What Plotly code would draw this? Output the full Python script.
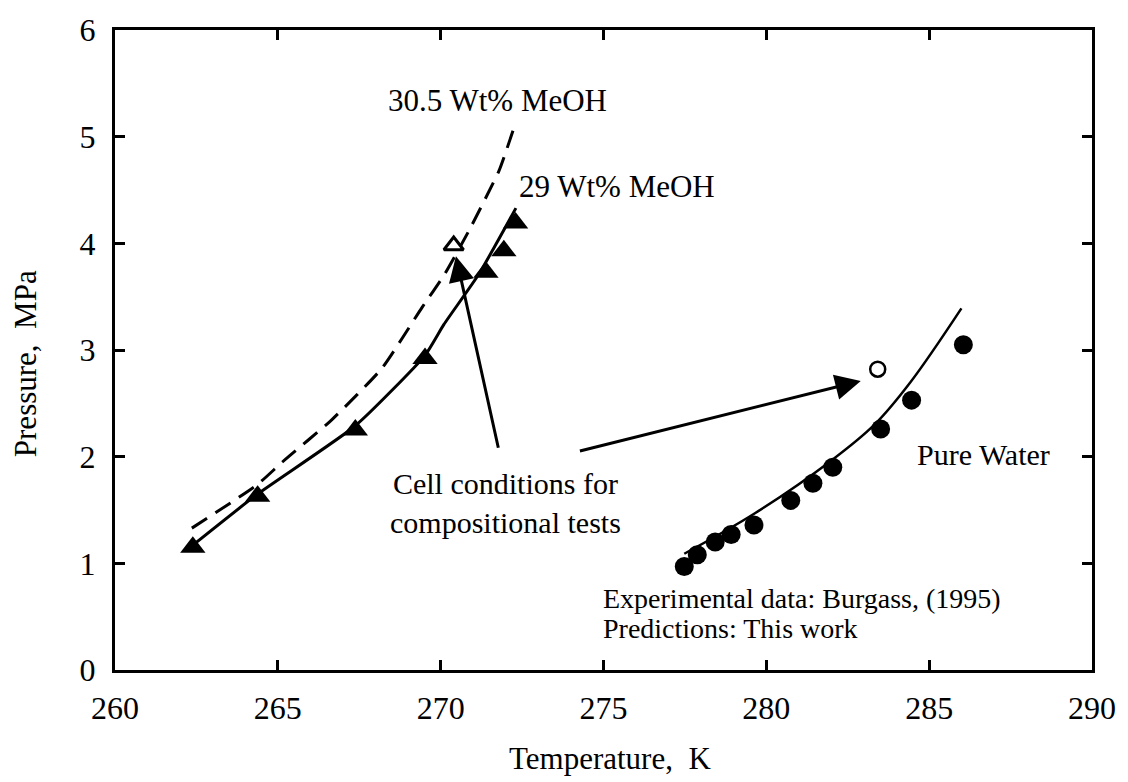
import plotly.graph_objects as go

# Hydrate dissociation data (temperature in K, pressure in MPa)
t_meoh29_pts = [262.39, 264.38, 267.38, 269.52, 271.39, 271.94, 272.30]
p_meoh29_pts = [1.15, 1.63, 2.25, 2.92, 3.73, 3.93, 4.19]

t_meoh29_pred = [262.39, 264.38, 267.38, 269.52, 270.10, 271.17, 272.31]
p_meoh29_pred = [1.17, 1.65, 2.29, 2.95, 3.24, 3.71, 4.33]

t_meoh305_pred = [262.36, 264.38, 265.14, 266.67, 268.20, 269.43, 270.10, 270.87, 271.79, 272.28]
p_meoh305_pred = [1.33, 1.74, 1.95, 2.35, 2.83, 3.40, 3.70, 4.12, 4.68, 5.11]

t_water_pts = [277.48, 277.88, 278.43, 278.92, 279.62, 280.75, 281.43, 282.04, 283.51, 284.46, 286.05]
p_water_pts = [0.97, 1.08, 1.20, 1.27, 1.36, 1.59, 1.75, 1.90, 2.26, 2.53, 3.05]

t_water_pred = [277.48, 279.65, 281.98, 283.32, 284.43, 285.99]
p_water_pred = [1.09, 1.47, 1.96, 2.30, 2.70, 3.39]

# Cell conditions used for the compositional tests
t_cell_meoh, p_cell_meoh = [270.40], [3.98]
t_cell_water, p_cell_water = [283.42], [2.82]

x_ticks = [260, 265, 270, 275, 280, 285, 290]
y_ticks = [0, 1, 2, 3, 4, 5, 6]

FONT = "Liberation Serif"
BLACK = "#000000"

fig = go.Figure()

fig.add_trace(go.Scatter(x=t_meoh305_pred, y=p_meoh305_pred, mode="lines",
                         line=dict(color=BLACK, width=3, dash="18px,10px",
                                   shape="spline", smoothing=0.5),
                         showlegend=False))
fig.add_trace(go.Scatter(x=t_meoh29_pred, y=p_meoh29_pred, mode="lines",
                         line=dict(color=BLACK, width=3, shape="spline", smoothing=0.5),
                         showlegend=False))
fig.add_trace(go.Scatter(x=t_water_pred, y=p_water_pred, mode="lines",
                         line=dict(color=BLACK, width=2.5, shape="spline"),
                         showlegend=False))
fig.add_trace(go.Scatter(x=t_meoh29_pts, y=p_meoh29_pts, mode="markers",
                         marker=dict(symbol="triangle-up", size=22, color=BLACK),
                         showlegend=False))
fig.add_trace(go.Scatter(x=t_water_pts, y=p_water_pts, mode="markers",
                         marker=dict(symbol="circle", size=19, color=BLACK),
                         showlegend=False))
fig.add_trace(go.Scatter(x=t_cell_meoh, y=p_cell_meoh, mode="markers",
                         marker=dict(symbol="triangle-up", size=17, color="white",
                                     line=dict(color=BLACK, width=3)),
                         showlegend=False))
fig.add_trace(go.Scatter(x=t_cell_water, y=p_cell_water, mode="markers",
                         marker=dict(symbol="circle", size=15, color="white",
                                     line=dict(color=BLACK, width=2.5)),
                         showlegend=False))


def label(x, y, text, size, **kw):
    d = dict(x=x, y=y, text=text, xref="x", yref="y", showarrow=False,
             xanchor="left", yanchor="middle",
             font=dict(family=FONT, size=size, color=BLACK))
    d.update(kw)
    return d


annotations = [
    label(268.33, 5.34, "30.5 Wt% MeOH", 31),
    label(272.34, 4.53, "29 Wt% MeOH", 31),
    label(272.0, 1.57, "Cell conditions for<br>compositional tests", 30,
          xanchor="center", align="center"),
    label(284.58, 2.02, "Pure Water", 30),
    label(274.91, 0.67, "Experimental data: Burgass, (1995)", 28),
    label(274.91, 0.39, "Predictions: This work", 28),
    # axis titles
    dict(x=0.507, y=-0.138, xref="paper", yref="paper", text="Temperature,\u00a0 K",
         showarrow=False, xanchor="center", yanchor="middle",
         font=dict(family=FONT, size=31, color=BLACK)),
    dict(x=-0.092, y=0.478, xref="paper", yref="paper", text="Pressure,\u00a0 MPa",
         showarrow=False, xanchor="center", yanchor="middle", textangle=-90,
         font=dict(family=FONT, size=31, color=BLACK)),
]

# Arrows pointing at the cell conditions
arrows = [
    dict(x=270.47, y=3.88, ax=271.78, ay=2.07),
    dict(x=282.90, y=2.71, ax=274.23, ay=2.05),
]
for a in arrows:
    a.update(xref="x", yref="y", axref="x", ayref="y", text="", showarrow=True,
             arrowhead=2, arrowsize=1.7, arrowwidth=3, arrowcolor=BLACK)

fig.update_layout(
    width=1128, height=782,
    margin=dict(l=115, r=33, t=18, b=112),
    paper_bgcolor="white", plot_bgcolor="white",
    font=dict(family=FONT, size=28, color=BLACK),
    annotations=annotations + arrows,
    showlegend=False,
)
fig.update_xaxes(
    range=[260, 290], tickvals=x_ticks, ticktext=[str(v) for v in x_ticks],
    showgrid=False, zeroline=False, showline=True, linecolor=BLACK, linewidth=3,
    mirror="ticks", ticks="inside", ticklen=10, tickwidth=2.5, tickcolor=BLACK,
    tickfont=dict(family=FONT, size=32, color=BLACK), ticklabelstandoff=8,
)
fig.update_yaxes(
    range=[0, 6], tickvals=y_ticks, ticktext=[str(v) for v in y_ticks],
    showgrid=False, zeroline=False, showline=True, linecolor=BLACK, linewidth=3,
    mirror="ticks", ticks="inside", ticklen=10, tickwidth=2.5, tickcolor=BLACK,
    tickfont=dict(family=FONT, size=32, color=BLACK), ticklabelstandoff=10,
)

fig.write_html("out.html")
